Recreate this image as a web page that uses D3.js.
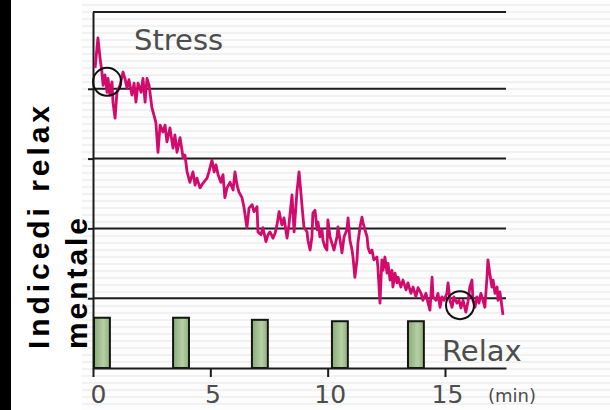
<!DOCTYPE html>
<html>
<head>
<meta charset="utf-8">
<script src="https://cdn.jsdelivr.net/npm/d3@7"></script>
<style>
    html, body { margin: 0; padding: 0; background: #fff; }
    svg { display: block; }
</style>
</head>
<body>
<svg id="chart" width="610" height="410"></svg>
<script>
// time axis in minutes, relax index in grid units (0 = bottom, 1 per grid row)
const timeMin = [
    0.09, 0.21, 0.30, 0.38, 0.43, 0.51, 0.60, 0.64, 0.72, 0.81, 0.85, 0.94, 1.02, 1.15, 1.28, 1.36,
    1.45, 1.53, 1.66, 1.75, 1.83, 1.92, 2.05, 2.13, 2.22, 2.30, 2.39, 2.51, 2.60, 2.68, 2.77, 2.86,
    2.98, 3.07, 3.15, 3.28, 3.41, 3.49, 3.58, 3.71, 3.84, 3.92, 4.01, 4.13, 4.26, 4.35, 4.43, 4.56,
    4.69, 4.86, 4.94, 5.07, 5.16, 5.24, 5.33, 5.45, 5.54, 5.62, 5.71, 5.84, 5.97, 6.05, 6.14, 6.22,
    6.35, 6.43, 6.56, 6.65, 6.78, 6.86, 6.99, 7.03, 7.16, 7.24, 7.37, 7.46, 7.54, 7.67, 7.76, 7.84,
    7.93, 8.05, 8.14, 8.27, 8.35, 8.48, 8.57, 8.69, 8.78, 8.86, 8.91, 8.99, 9.12, 9.16, 9.25, 9.33,
    9.37, 9.46, 9.55, 9.59, 9.67, 9.76, 9.80, 9.89, 9.97, 10.01, 10.10, 10.18, 10.27, 10.40, 10.44, 10.53,
    10.61, 10.70, 10.82, 10.87, 10.95, 11.04, 11.08, 11.16, 11.25, 11.29, 11.38, 11.46, 11.51, 11.59, 11.68, 11.72,
    11.80, 11.89, 11.97, 12.10, 12.14, 12.23, 12.31, 12.36, 12.44, 12.53, 12.57, 12.66, 12.74, 12.78, 12.87, 12.95,
    13.00, 13.12, 13.21, 13.34, 13.42, 13.55, 13.64, 13.76, 13.85, 13.98, 14.06, 14.19, 14.28, 14.36, 14.45, 14.49,
    14.62, 14.70, 14.79, 14.87, 14.96, 15.08, 15.13, 15.21, 15.30, 15.38, 15.51, 15.60, 15.68, 15.77, 15.89, 15.98,
    16.06, 16.15, 16.19, 16.28, 16.36, 16.45, 16.53, 16.62, 16.70, 16.79, 16.83, 16.92, 17.00, 17.05, 17.13, 17.22,
    17.26, 17.34, 17.43, 17.47
]
const relaxIndex = [
    4.30, 4.73, 4.44, 4.24, 4.05, 4.20, 3.95, 4.15, 3.91, 4.10, 3.81, 3.58, 3.95, 4.05, 4.24, 4.15,
    4.01, 4.13, 3.91, 4.08, 3.81, 4.08, 3.95, 4.15, 3.81, 4.15, 4.05, 3.73, 3.62, 3.52, 3.09, 3.48,
    3.38, 3.48, 3.24, 3.44, 3.15, 3.34, 3.09, 3.30, 3.01, 3.05, 2.81, 2.66, 2.81, 2.62, 2.72, 2.58,
    2.65, 2.72, 2.81, 2.98, 2.81, 2.91, 2.77, 2.66, 2.77, 2.44, 2.58, 2.66, 2.55, 2.81, 2.62, 2.52,
    2.44, 2.31, 2.01, 2.29, 2.34, 2.24, 2.31, 1.95, 1.91, 2.01, 1.81, 1.91, 1.95, 1.86, 1.93, 2.05,
    2.24, 2.05, 2.15, 1.86, 2.05, 2.48, 1.95, 2.52, 2.81, 2.51, 2.31, 2.02, 1.95, 1.83, 1.69, 1.88,
    2.22, 2.26, 1.98, 2.09, 1.88, 1.98, 1.83, 1.73, 1.69, 2.12, 1.88, 1.79, 1.69, 1.88, 2.02, 1.83,
    1.65, 1.88, 1.98, 2.15, 1.83, 1.69, 1.59, 1.30, 1.55, 1.79, 2.02, 2.16, 2.08, 1.98, 1.88, 1.73,
    1.65, 1.69, 1.55, 1.59, 1.45, 0.93, 1.55, 1.40, 1.59, 1.36, 1.50, 1.26, 1.40, 1.16, 1.36, 1.22,
    1.30, 1.16, 1.26, 1.12, 1.22, 1.07, 1.16, 1.02, 1.15, 1.07, 0.97, 1.07, 0.93, 0.83, 1.30, 1.02,
    0.97, 1.07, 0.87, 1.02, 0.97, 1.07, 1.22, 0.97, 0.87, 1.02, 0.93, 0.97, 0.86, 0.97, 0.80, 0.95,
    1.16, 1.26, 0.97, 0.87, 1.02, 0.93, 1.07, 0.97, 0.87, 1.30, 1.55, 1.33, 1.16, 1.26, 1.07, 1.16,
    0.97, 1.09, 0.87, 0.76
]

// stimulus bars along the bottom
const barStart = [0, 3.37, 6.73, 10.14, 13.38]
const barHeight = [0.72, 0.72, 0.69, 0.67, 0.67]
const BAR_WIDTH_MIN = 0.72

// circled points
const markTime = [0.6, 15.64]
const markValue = [4.1, 0.9]

const xTicks = [0, 5, 10, 15]
const gridLevels = [1, 2, 3, 4]
const Y_MAX = 5.1

const LINE_COLOR = '#d10a6c'
const AXIS_COLOR = '#1c1c1c'
const LABEL_COLOR = '#4d4d4d'

const svg = d3.select('#chart')

const x = d3.scaleLinear().domain([0, 17.6]).range([93, 506])
const y = d3.scaleLinear().domain([0, Y_MAX]).range([368, 12])

// background: black strip at the left, faint scan stripes behind the plot
const defs = svg.append('defs')
const stripes = defs.append('pattern')
    .attr('id', 'stripes')
    .attr('patternUnits', 'userSpaceOnUse')
    .attr('width', 8)
    .attr('height', 7)
stripes.append('rect').attr('width', 8).attr('height', 7).attr('fill', '#fdfdfd')
stripes.append('rect').attr('y', 4).attr('width', 8).attr('height', 2).attr('fill', '#f1f1f1')

const barGrad = defs.append('linearGradient')
    .attr('id', 'barGrad')
    .attr('x1', '0%').attr('x2', '100%').attr('y1', '0%').attr('y2', '0%')
barGrad.append('stop').attr('offset', '0%').attr('stop-color', '#89ab74')
barGrad.append('stop').attr('offset', '60%').attr('stop-color', '#b6cfa6')
barGrad.append('stop').attr('offset', '100%').attr('stop-color', '#90b07c')

svg.append('rect').attr('width', 610).attr('height', 410).attr('fill', '#fff')
svg.append('rect')
    .attr('x', 82).attr('y', 0)
    .attr('width', 528).attr('height', 410)
    .attr('fill', 'url(#stripes)')
svg.append('rect').attr('x', 0).attr('y', 0).attr('width', 11).attr('height', 410).attr('fill', '#000')

// horizontal grid + top frame
svg.append('g')
    .selectAll('line')
    .data(gridLevels.concat([Y_MAX]))
    .join('line')
    .attr('x1', x.range()[0])
    .attr('x2', x.range()[1])
    .attr('y1', d => y(d))
    .attr('y2', d => y(d))
    .attr('stroke', AXIS_COLOR)
    .attr('stroke-width', 2)

// y axis: line with short ticks, no labels
const yAxis = svg.append('g')
    .attr('transform', `translate(${x(0)},0)`)
    .call(d3.axisLeft(y).tickValues(gridLevels).tickSize(5).tickSizeOuter(0).tickFormat(''))
yAxis.selectAll('path, line').attr('stroke', AXIS_COLOR).attr('stroke-width', 2)

// stimulus bars
svg.append('g')
    .selectAll('rect')
    .data(barStart.map((s, i) => ({ s, h: barHeight[i] })))
    .join('rect')
    .attr('x', d => x(d.s) + 1)
    .attr('y', d => y(d.h))
    .attr('width', d => x(d.s + BAR_WIDTH_MIN) - x(d.s) - 1)
    .attr('height', d => y(0) - y(d.h))
    .attr('fill', 'url(#barGrad)')
    .attr('stroke', '#151515')
    .attr('stroke-width', 2)

// x axis
const xAxis = svg.append('g')
    .attr('transform', `translate(0,${y(0)})`)
    .call(d3.axisBottom(x).tickValues(xTicks).tickSize(9).tickSizeOuter(0))
xAxis.selectAll('path, line').attr('stroke', AXIS_COLOR).attr('stroke-width', 2)
xAxis.selectAll('text')
    .attr('y', 35)
    .attr('dy', 0)
    .attr('dx', d => d === 0 ? 5 : 2)
    .attr('fill', LABEL_COLOR)
    .attr('font-family', '"DejaVu Sans", Verdana, sans-serif')
    .attr('font-size', 25)

svg.append('text')
    .text('(min)')
    .attr('x', 488)
    .attr('y', 402)
    .attr('fill', LABEL_COLOR)
    .attr('font-family', '"DejaVu Sans", Verdana, sans-serif')
    .attr('font-size', 18)

// relax index trace
const line = d3.line()
    .x((d, i) => x(timeMin[i]))
    .y(d => y(d))

svg.append('path')
    .attr('d', line(relaxIndex))
    .attr('fill', 'none')
    .attr('stroke', LINE_COLOR)
    .attr('stroke-width', 2.8)
    .attr('stroke-linejoin', 'round')

// circled points
svg.append('g')
    .selectAll('circle')
    .data(markTime.map((t, i) => [t, markValue[i]]))
    .join('circle')
    .attr('cx', d => x(d[0]))
    .attr('cy', d => y(d[1]))
    .attr('r', 14)
    .attr('fill', 'none')
    .attr('stroke', '#111')
    .attr('stroke-width', 2)

// Stress / Relax labels
const corner = svg.append('g')
    .attr('fill', LABEL_COLOR)
    .attr('font-family', '"DejaVu Sans", Verdana, sans-serif')
    .attr('font-size', 29)
corner.append('text').text('Stress').attr('x', 134).attr('y', 50)
corner.append('text').text('Relax').attr('x', 442).attr('y', 361)

// rotated y title, two lines, starting from the bottom
const title = svg.append('text')
    .attr('transform', 'translate(49,349) rotate(-90)')
    .attr('font-family', '"Liberation Sans", Arial, sans-serif')
    .attr('font-weight', 'bold')
    .attr('font-size', 30)
    .attr('fill', '#000')
title.append('tspan').attr('x', 0).attr('y', 0)
    .attr('textLength', 243).attr('lengthAdjust', 'spacing')
    .text('Indicedi relax')
title.append('tspan').attr('x', 0).attr('y', 38)
    .attr('textLength', 131).attr('lengthAdjust', 'spacing')
    .text('mentale')
</script>
</body>
</html>
